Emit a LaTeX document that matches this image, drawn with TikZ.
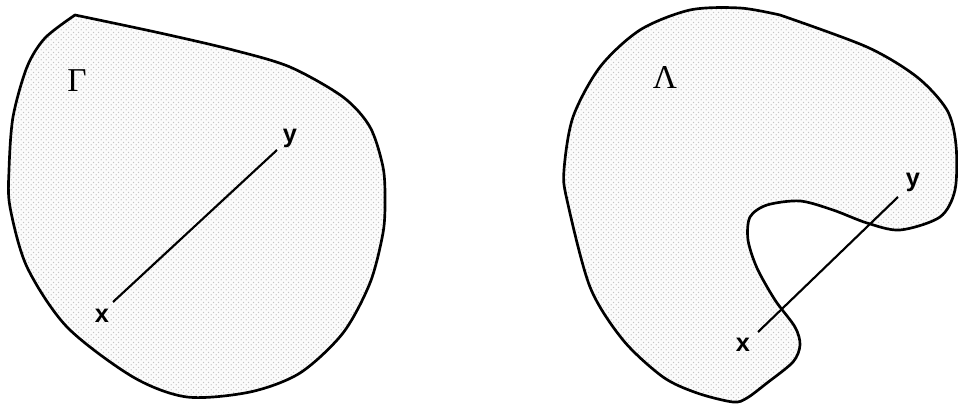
\documentclass[tikz,border=0pt]{standalone}
\usepackage{fontspec}
\setmainfont{Liberation Serif}
\newfontfamily\arialfont{Liberation Sans}
\usetikzlibrary{patterns.meta}
\tikzdeclarepattern{name=halftone, type=uncolored,
  bounding box={(0pt,0pt) and (4pt,4pt)}, tile size={(4pt,4pt)},
  code={\fill (1pt,1pt) circle (0.6pt); \fill (3pt,3pt) circle (0.6pt);}}
\tikzset{
  region/.style={draw=black, line width=2pt, line join=round},
  regionfill/.style={fill=gray!3},
  dotfill/.style={pattern=halftone, pattern color=gray!45},
  seg/.style={draw=black, line width=1.6pt},
  ptlabel/.style={font=\arialfont\bfseries\fontsize{19pt}{19pt}\selectfont, inner sep=0pt},
  setlabel/.style={font=\fontsize{25pt}{25pt}\selectfont, inner sep=0pt}
}
\begin{document}
\begin{tikzpicture}[x=0.75pt,y=-0.75pt]
\useasboundingbox (0,0) rectangle (958,406);
% Gamma region
\def\gammapath{plot[smooth, tension=0.5] coordinates {(75,15) (160,33) (233,50) (290,67) (343,97) (370,127) (383,167) (385,200) (383,233) (370,283) (343,333) (300,373) (250,392) (187,397) (133,377) (67,327) (27,267) (10,207) (9,170) (13,117) (27,67) (45,38) (75,15)} -- cycle}
\fill[regionfill] \gammapath;
\fill[dotfill] \gammapath;
\draw[region] \gammapath;
% Lambda region
\def\lambdapath{plot[smooth, tension=0.5] coordinates {(780,15) (867,47) (917,77) (947,110) (956,145) (955,190) (940,217) (900,230) (867,223) (833,210) (800,201) (767,205) (750,217) (748,240) (757,268) (775,300) (795,327) (800,345) (793,362) (767,383) (747,398) (733,402) (697,393) (663,377) (623,340) (590,287) (567,200) (564,170) (573,117) (600,67) (640,30) (690,10) (740,8) (780,15)} -- cycle}
\fill[regionfill] \lambdapath;
\fill[dotfill] \lambdapath;
\draw[region] \lambdapath;
% labels
\node[setlabel] (G) at (77,81) {Γ};
\node[setlabel] (L) at (665,78) {Λ};
\node[ptlabel] (x1) at (102,316) {x};
\node[ptlabel] (y1) at (290,138) {y};
\node[ptlabel] (x2) at (743,345) {x};
\node[ptlabel] (y2) at (913,182) {y};
% segments
\coordinate (a1) at (113,302);
\coordinate (b1) at (277,150);
\coordinate (a2) at (758,332);
\coordinate (b2) at (898,197);
\draw[seg] (a1) -- (b1);
\draw[seg] (a2) -- (b2);
\end{tikzpicture}
\end{document}
